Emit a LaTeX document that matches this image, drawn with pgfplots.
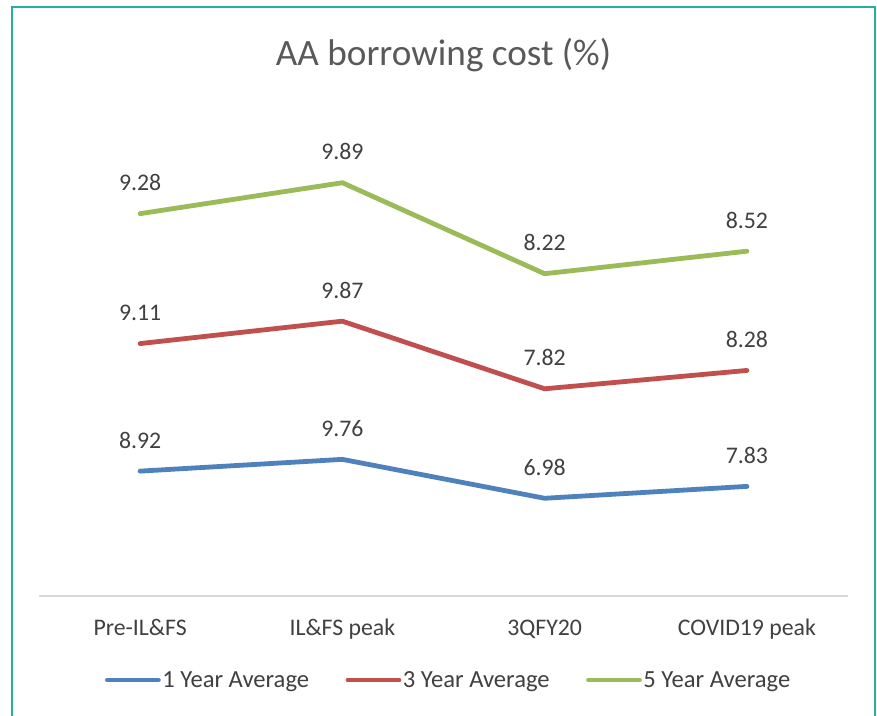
\documentclass[border=0pt]{standalone}
\usepackage{fontspec}
\setmainfont{Carlito}
\usepackage{pgfplots}
\usepackage{pgfplotstable}
\pgfplotsset{compat=1.18}
\definecolor{c1}{HTML}{4F81BD}
\definecolor{c3}{HTML}{C0504D}
\definecolor{c5}{HTML}{9BBB59}
\definecolor{labgray}{HTML}{404040}
\definecolor{titlegray}{HTML}{595959}
\definecolor{axisgray}{HTML}{D9D9D9}
\definecolor{bordercol}{HTML}{26AE9E}
\pgfplotstableread{
x y
0 8.92
1 9.76
2 6.98
3 7.83
}\oneyr
\pgfplotstableread{
x y
0 9.11
1 9.87
2 7.82
3 8.28
}\threeyr
\pgfplotstableread{
x y
0 9.28
1 9.89
2 8.22
3 8.52
}\fiveyr
\begin{document}
\begin{tikzpicture}[x=1pt,y=1pt]
\useasboundingbox (0,0) rectangle (877,715);
\draw[color=bordercol, line width=2pt] (11.5,-5) -- (11.5,708) -- (875,708) -- (875,-5);
\begin{axis}[
  at={(39pt,119pt)}, anchor=south west, scale only axis,
  width=809pt, height=490pt,
  xmin=-0.5, xmax=3.5, ymin=0, ymax=35,
  axis y line=none, axis x line=bottom,
  x axis line style={-, draw=axisgray, line width=1.5pt},
  xtick={0,1,2,3},
  xticklabels={Pre-IL\&FS, IL\&FS peak, 3QFY20, COVID19 peak},
  major tick length=0pt,
  xticklabel style={anchor=base, yshift=-39pt, font=\fontsize{23.8}{28}\selectfont, text=labgray},
  title={AA borrowing cost (\%)},
  title style={at={(0.5,1.0714)}, anchor=base, font=\fontsize{37.2}{44}\selectfont, text=titlegray},
  stack plots=y,
  point meta=explicit,
  nodes near coords={\pgfmathprintnumber[fixed,fixed zerofill,precision=2,assume math mode=true]{\pgfplotspointmeta}},
  every node near coord/.append style={anchor=base, yshift=23pt, font=\fontsize{23.8}{28}\selectfont, text=labgray},
  legend columns=3,
  legend style={draw=none, at={(0.506,-0.1714)}, anchor=center,
    font=\fontsize{24.6}{28}\selectfont, text=labgray,
    nodes={inner xsep=1.5pt},
    /tikz/every even column/.append style={column sep=35pt}},
  legend image code/.code={\draw[#1, line cap=round] (2pt,0pt) -- (53pt,0pt);},
  clip=false,
]
\addplot[c1, line width=4.8pt, line cap=round, line join=round] table[x=x,y=y,meta=y]{\oneyr};
\addlegendentry{1 Year Average}
\addplot[c3, line width=4.8pt, line cap=round, line join=round] table[x=x,y=y,meta=y]{\threeyr};
\addlegendentry{3 Year Average}
\addplot[c5, line width=4.8pt, line cap=round, line join=round] table[x=x,y=y,meta=y]{\fiveyr};
\addlegendentry{5 Year Average}
\end{axis}
\end{tikzpicture}
\end{document}
